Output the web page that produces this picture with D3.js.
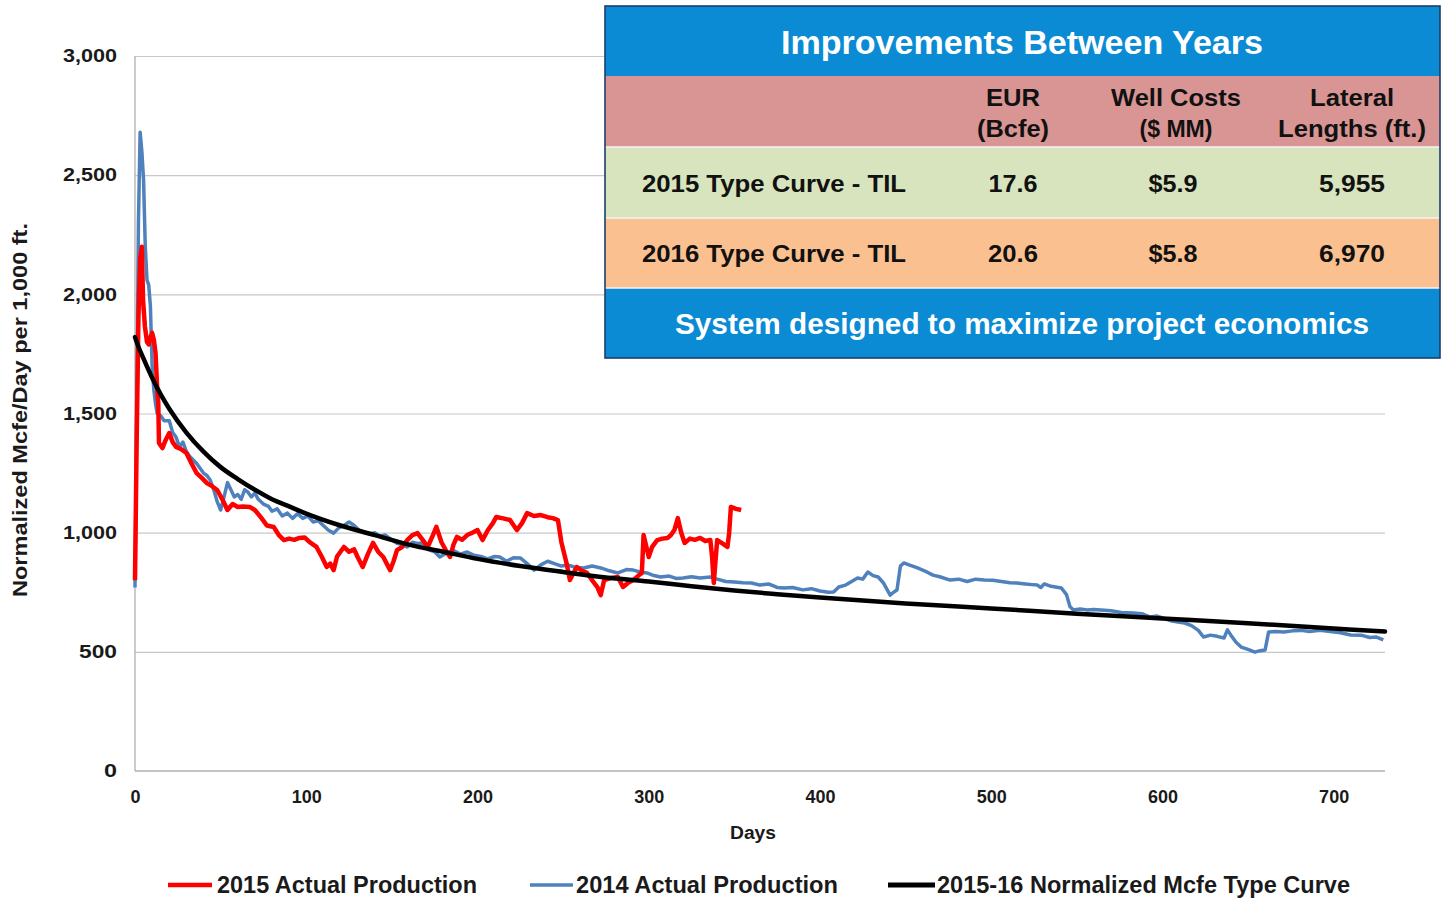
<!DOCTYPE html>
<html>
<head>
<meta charset="utf-8">
<script src="https://cdn.jsdelivr.net/npm/d3@7/dist/d3.min.js"></script>
<style>
  html, body { margin: 0; padding: 0; background: #fff; }
  svg { display: block; font-family: "Liberation Sans", Arial, sans-serif; font-weight: bold; }
  .narrow { font-family: "Liberation Sans Narrow", "Arial Narrow", "Liberation Sans", Arial, sans-serif; }
</style>
</head>
<body>
<svg id="chart" width="1444" height="901"></svg>
<script>
// ---------------- DATA ----------------
const xTicks = [0, 100, 200, 300, 400, 500, 600, 700];
const yTicks = [0, 500, 1000, 1500, 2000, 2500, 3000];

// 2014 Actual Production [day, Mcfe/day per 1,000 ft]
const prod2014 = [[0,770],[1,1500],[2,2300],[3,2680],[4,2600],[5,2480],[6,2200],[7,2060],[8,2040],[9,1950],[10,1700],[11,1600],[12,1540],[13,1500],[15,1490],[17,1470],[20,1470],[22,1420],[24,1400],[26,1360],[28,1380],[30,1340],[32,1320],[34,1305],[36,1290],[38,1270],[40,1250],[42,1240],[44,1220],[46,1180],[48,1130],[50,1095],[52,1150],[54,1210],[56,1180],[58,1150],[60,1160],[62,1140],[64,1180],[66,1170],[68,1150],[70,1166],[72,1140],[75,1120],[78,1110],[80,1090],[83,1100],[86,1070],[89,1082],[92,1060],[95,1080],[98,1060],[101,1070],[104,1045],[107,1050],[110,1030],[113,1010],[116,998],[119,1020],[122,1030],[125,1045],[128,1030],[131,1010],[134,1000],[137,995],[140,1000],[143,985],[146,990],[150,970],[153,955],[156,950],[159,940],[162,960],[165,955],[168,957],[171,930],[175,920],[178,898],[182,915],[186,925],[190,910],[194,919],[198,905],[202,900],[206,890],[210,900],[213,898],[217,880],[221,895],[225,894],[229,870],[233,843],[237,865],[241,880],[245,870],[249,860],[253,864],[257,855],[262,852],[267,860],[272,852],[277,840],[282,831],[287,845],[291,843],[295,835],[299,831],[303,820],[307,814],[312,818],[316,808],[320,810],[325,815],[330,810],[336,814],[340,805],[345,795],[350,793],[355,790],[360,789],[365,780],[370,785],[375,770],[379,768],[384,770],[390,760],[395,765],[400,755],[405,750],[408,751],[411,772],[415,780],[418,793],[422,810],[425,805],[428,835],[431,820],[434,814],[437,790],[441,738],[443,750],[445,759],[447,860],[449,873],[452,865],[457,852],[461,840],[466,822],[470,815],[476,801],[481,805],[486,795],[491,805],[496,801],[501,800],[506,795],[511,790],[515,789],[520,785],[524,782],[527,780],[529,770],[531,785],[535,775],[541,768],[544,740],[546,690],[548,676],[552,680],[556,676],[560,678],[564,676],[570,672],[576,665],[583,663],[588,660],[593,646],[597,650],[601,640],[605,630],[609,625],[613,621],[617,610],[621,590],[624,562],[628,570],[632,565],[636,558],[638,592],[640,570],[643,540],[646,520],[650,510],[654,499],[657,505],[660,508],[662,583],[666,585],[671,583],[676,588],[681,590],[686,585],[692,590],[698,585],[704,580],[710,571],[716,570],[721,560],[725,562],[729,550]];

// 2015 Actual Production
const prod2015 = [[0,800],[1,1400],[2,1900],[3,2150],[4,2200],[4.7,1976],[5.8,1864],[7,1800],[8,1790],[9,1820],[10,1838],[11,1810],[12,1754],[13,1600],[13.6,1544],[14,1376],[16,1355],[18,1390],[20,1418],[22,1380],[24,1360],[27,1350],[30,1334],[33,1290],[36,1250],[39,1230],[42,1208],[45,1195],[48,1179],[51,1140],[54,1095],[57,1120],[60,1108],[63,1110],[67,1108],[70,1095],[74,1060],[77,1030],[81,1024],[84,990],[87,969],[90,975],[93,970],[96,978],[99,980],[102,960],[106,940],[109,900],[112,856],[114,870],[116,843],[118,900],[120,920],[122,940],[125,920],[128,930],[130,898],[133,856],[136,910],[139,957],[142,920],[145,898],[147,870],[149,843],[151,880],[153,927],[156,940],[159,969],[162,990],[165,998],[168,970],[171,940],[174,990],[176,1024],[179,960],[182,920],[184,898],[186,950],[188,982],[191,970],[194,990],[197,1000],[200,1011],[203,969],[206,1010],[209,1040],[211,1066],[215,1060],[219,1053],[223,1011],[226,1040],[229,1082],[233,1070],[237,1074],[241,1065],[244,1061],[247,1053],[249,960],[252,873],[254,801],[256,830],[258,856],[261,840],[264,831],[267,800],[270,772],[272,738],[274,801],[278,810],[282,814],[285,772],[288,790],[291,801],[294,820],[296,831],[297,990],[299,930],[300,898],[302,940],[305,969],[308,975],[311,978],[313,990],[315,1011],[317,1061],[319,1000],[321,957],[324,975],[327,970],[330,978],[333,965],[336,969],[337,900],[338,789],[339,880],[340,969],[343,955],[346,940],[347,1000],[348,1108],[351,1100],[354,1095]];

// 2015-16 Normalized Mcfe Type Curve
const typeCurve = [[0,1820],[2,1780],[5,1730],[10,1650],[15,1580],[20,1520],[30,1420],[40,1340],[50,1275],[60,1225],[70,1180],[80,1140],[90,1110],[100,1080],[120,1030],[140,990],[160,950],[180,920],[200,890],[225,860],[250,835],[275,812],[300,795],[325,775],[350,757],[375,742],[400,728],[450,703],[500,682],[550,660],[600,640],[650,620],[700,598],[730,585]];

const seriesNames = ["2015 Actual Production", "2014 Actual Production", "2015-16 Normalized Mcfe Type Curve"];

// Table
const tableTitle = "Improvements Between Years";
const tableFooter = "System designed to maximize project economics";
const tableHeaders = [["EUR", "(Bcfe)"], ["Well Costs", "($ MM)"], ["Lateral", "Lengths (ft.)"]];
const tableRowLabels = ["2015 Type Curve - TIL", "2016 Type Curve - TIL"];
const tableValues = [["17.6", "$5.9", "5,955"], ["20.6", "$5.8", "6,970"]];

// ---------------- CHART ----------------
const svg = d3.select("#chart");
const plot = { left: 135, right: 1385, top: 56, bottom: 771 };

const x = d3.scaleLinear().domain([0, 730]).range([plot.left, plot.right]);
const y = d3.scaleLinear().domain([0, 3000]).range([plot.bottom, plot.top]);

function fit(sel, w) {
  sel.attr("textLength", w).attr("lengthAdjust", "spacingAndGlyphs");
  return sel;
}

// gridlines
svg.append("g")
  .attr("transform", `translate(${plot.left},0)`)
  .call(d3.axisLeft(y).tickValues(yTicks.filter(d => d > 0)).tickSize(-(plot.right - plot.left)).tickFormat(""))
  .call(g => g.select(".domain").remove())
  .call(g => g.selectAll("line").attr("stroke", "#c8c8c8").attr("stroke-width", 1.2));

// axis lines
svg.append("line").attr("x1", plot.left).attr("x2", plot.left).attr("y1", plot.top).attr("y2", plot.bottom)
  .attr("stroke", "#b0b0b0").attr("stroke-width", 1.3);
svg.append("line").attr("x1", plot.left).attr("x2", plot.right).attr("y1", plot.bottom).attr("y2", plot.bottom)
  .attr("stroke", "#b0b0b0").attr("stroke-width", 1.3);

// y tick labels
const yAx = svg.append("g")
  .attr("transform", `translate(${plot.left},0)`)
  .call(d3.axisLeft(y).tickValues(yTicks).tickSize(0).tickPadding(18).tickFormat(d3.format(",")));
yAx.select(".domain").remove();
yAx.selectAll("text").attr("font-size", 18).attr("font-weight", "bold").attr("fill", "#1a1a1a")
  .attr("font-family", "'Liberation Sans', Arial, sans-serif")
  .each(function(d) { const s = d3.select(this); const n = d3.format(",")(d).length; s.attr("textLength", n === 5 ? 54 : n === 3 ? 38 : 13).attr("lengthAdjust", "spacingAndGlyphs"); });

// x tick labels
const xAx = svg.append("g")
  .attr("transform", `translate(0,${plot.bottom})`)
  .call(d3.axisBottom(x).tickValues(xTicks).tickSize(0).tickPadding(19).tickFormat(d3.format("d")));
xAx.select(".domain").remove();
xAx.selectAll("text").attr("font-size", 18).attr("font-weight", "bold").attr("fill", "#1a1a1a")
  .attr("font-family", "'Liberation Sans', Arial, sans-serif");

// axis titles
fit(svg.append("text").attr("x", 753).attr("y", 839).attr("text-anchor", "middle")
  .attr("font-size", 18).attr("fill", "#1a1a1a").text("Days"), 46);
fit(svg.append("text").attr("class", "narrow").attr("transform", "translate(27,410) rotate(-90)").attr("text-anchor", "middle")
  .attr("font-size", 21).attr("fill", "#1a1a1a").text("Normalized Mcfe/Day per 1,000 ft."), 374);

// lines
const line = d3.line().x(d => x(d[0])).y(d => y(d[1]));
const smooth = d3.line().x(d => x(d[0])).y(d => y(d[1])).curve(d3.curveMonotoneX);

svg.append("path").datum(prod2014).attr("d", line).attr("fill", "none")
  .attr("stroke", "#4f81bd").attr("stroke-width", 3.5).attr("stroke-linejoin", "round");
svg.append("path").datum(prod2015).attr("d", line).attr("fill", "none")
  .attr("stroke", "#ff0000").attr("stroke-width", 4.5).attr("stroke-linejoin", "round");
svg.append("path").datum(typeCurve).attr("d", smooth).attr("fill", "none")
  .attr("stroke", "#000").attr("stroke-width", 4.5).attr("stroke-linecap", "round");

// legend
const legendItems = [
  { name: seriesNames[0], color: "#ff0000", w: 4.5, x0: 168, x1: 212, tx: 217, tw: 260 },
  { name: seriesNames[1], color: "#4f81bd", w: 3.5, x0: 530, x1: 573, tx: 576, tw: 262 },
  { name: seriesNames[2], color: "#000000", w: 5, x0: 888, x1: 935, tx: 937, tw: 413 }
];
const lg = svg.append("g");
legendItems.forEach(it => {
  lg.append("line").attr("x1", it.x0).attr("x2", it.x1).attr("y1", 885).attr("y2", 885)
    .attr("stroke", it.color).attr("stroke-width", it.w);
  fit(lg.append("text").attr("class", "narrow").attr("x", it.tx).attr("y", 893).attr("font-size", 23).attr("fill", "#1a1a1a").text(it.name), it.tw);
});

// ---------------- TABLE ----------------
const tb = svg.append("g");
const T = { x0: 605, x1: 1440, rows: [6, 76, 147, 218, 288, 358] };
const rowFills = ["#0a8bd3", "#d99594", "#d7e4bd", "#fac08f", "#0a8bd3"];
rowFills.forEach((c, i) => {
  tb.append("rect").attr("x", T.x0).attr("y", T.rows[i]).attr("width", T.x1 - T.x0)
    .attr("height", T.rows[i + 1] - T.rows[i]).attr("fill", c);
});
[2, 3, 4].forEach(i => {
  tb.append("line").attr("x1", T.x0).attr("x2", T.x1).attr("y1", T.rows[i]).attr("y2", T.rows[i])
    .attr("stroke", "#f4f4f4").attr("stroke-width", 1.5);
});
tb.append("rect").attr("x", T.x0).attr("y", T.rows[0]).attr("width", T.x1 - T.x0)
  .attr("height", T.rows[5] - T.rows[0]).attr("fill", "none").attr("stroke", "#1f3d6b").attr("stroke-width", 1.6);

fit(tb.append("text").attr("class", "narrow").attr("x", 1022).attr("y", 54).attr("text-anchor", "middle").attr("font-size", 33)
  .attr("fill", "#fff").text(tableTitle), 482);
fit(tb.append("text").attr("class", "narrow").attr("x", 1022).attr("y", 334).attr("text-anchor", "middle").attr("font-size", 29)
  .attr("fill", "#fff").text(tableFooter), 694);

const colX = [1013, 1176, 1352];
const headW = [[54, 72], [130, 73], [84, 148]];
tableHeaders.forEach((h, i) => {
  fit(tb.append("text").attr("class", "narrow").attr("x", colX[i]).attr("y", 106).attr("text-anchor", "middle").attr("font-size", 24)
    .attr("fill", "#111").text(h[0]), headW[i][0]);
  fit(tb.append("text").attr("class", "narrow").attr("x", colX[i]).attr("y", 137).attr("text-anchor", "middle").attr("font-size", 24)
    .attr("fill", "#111").text(h[1]), headW[i][1]);
});
const rowY = [192, 262];
const valX = [1013, 1173, 1352];
const valW = [[49, 49, 66], [50, 49, 66]];
tableRowLabels.forEach((lab, r) => {
  fit(tb.append("text").attr("class", "narrow").attr("x", 774).attr("y", rowY[r]).attr("text-anchor", "middle").attr("font-size", 24)
    .attr("fill", "#111").text(lab), 264);
  tableValues[r].forEach((v, c) => {
    fit(tb.append("text").attr("class", "narrow").attr("x", valX[c]).attr("y", rowY[r]).attr("text-anchor", "middle").attr("font-size", 24)
      .attr("fill", "#111").text(v), valW[r][c]);
  });
});
</script>
</body>
</html>
